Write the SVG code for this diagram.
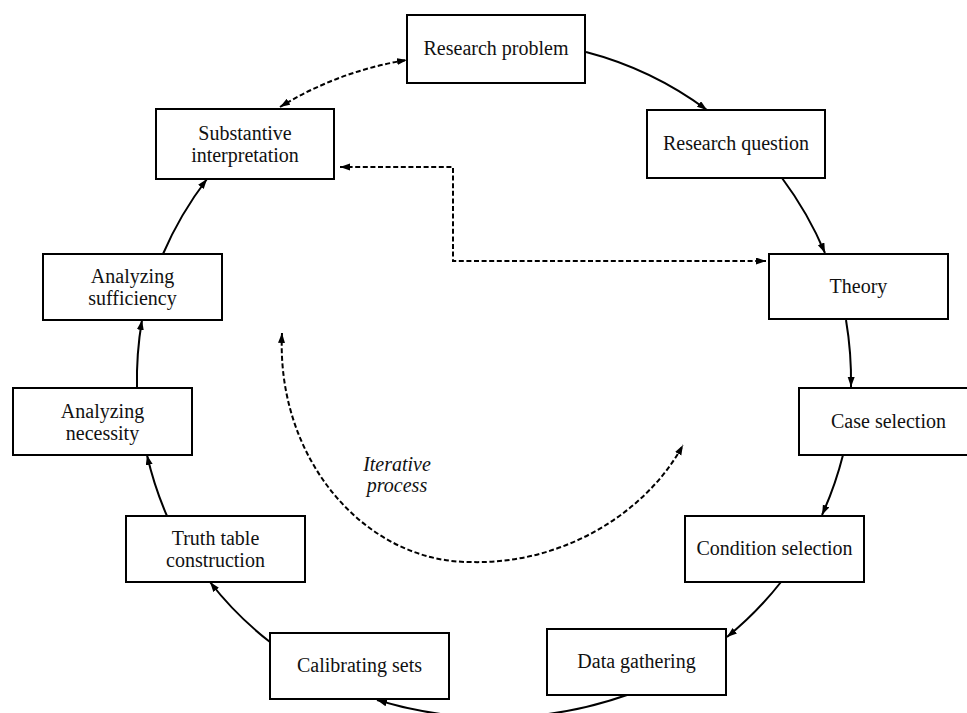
<svg xmlns="http://www.w3.org/2000/svg" width="967" height="713" viewBox="0 0 967 713">
<style>
  .box rect { fill: #fff; stroke: #000; stroke-width: 2; }
  .box text, .lbl { font-family: "Liberation Serif", "Times New Roman", serif; font-size: 20px; fill: #111; text-anchor: middle; }
  .lbl { font-style: italic; }
  .solid { fill: none; stroke: #000; stroke-width: 2; marker-end: url(#ah); }
  .dash { fill: none; stroke: #000; stroke-width: 2; stroke-dasharray: 5 2.6; marker-start: url(#ah2); marker-end: url(#ah2); }
</style>
<defs>
  <marker id="ah" markerUnits="userSpaceOnUse" markerWidth="11" markerHeight="8" refX="10" refY="3.5" orient="auto">
    <path d="M0,0 L10,3.5 L0,7 z" fill="#000"/>
  </marker>
  <marker id="ah2" markerUnits="userSpaceOnUse" markerWidth="11" markerHeight="8" refX="10" refY="3.5" orient="auto-start-reverse">
    <path d="M0,0 L10,3.5 L0,7 z" fill="#000"/>
  </marker>
</defs>
<g id="connectors">
  <path class="solid" d="M586,52 A352,352 0 0 1 707,110"/>
  <path class="solid" d="M782,178 A360,360 0 0 1 825,253"/>
  <path class="solid" d="M846,320 A362,362 0 0 1 851,387"/>
  <path class="solid" d="M843,455 A357,357 0 0 1 822,515"/>
  <path class="solid" d="M781,582 A346,346 0 0 1 727,637"/>
  <path class="solid" d="M627,695 A400,400 0 0 1 377,700"/>
  <path class="solid" d="M270,642 A338,338 0 0 1 210,582"/>
  <path class="solid" d="M167,516 A348,348 0 0 1 147,455"/>
  <path class="solid" d="M137,388 A354,354 0 0 1 142,320"/>
  <path class="solid" d="M163,254 A354,354 0 0 1 207,179"/>
  <path class="dash" d="M280,107 A345,345 0 0 1 407,60"/>
  <path class="dash" d="M340,167 H453 V261 H766"/>
  <path class="dash" d="M282,333 C276,459 365,562 470,562 C560,565 645,515 683,445"/>
</g>
<g id="n1" class="box"><rect x="407" y="15" width="178" height="68"/><text x="496" y="55">Research problem</text></g>
<g id="n2" class="box"><rect x="647" y="110" width="178" height="68"/><text x="736" y="150">Research question</text></g>
<g id="n3" class="box"><rect x="769" y="254" width="179" height="65"/><text x="858.5" y="293">Theory</text></g>
<g id="n4" class="box"><rect x="799" y="388" width="179" height="67"/><text x="888.5" y="428">Case selection</text></g>
<g id="n5" class="box"><rect x="685" y="516" width="179" height="66"/><text x="774.5" y="555">Condition selection</text></g>
<g id="n6" class="box"><rect x="547" y="629" width="179" height="66"/><text x="636.5" y="668">Data gathering</text></g>
<g id="n7" class="box"><rect x="270" y="633" width="179" height="66"/><text x="359.5" y="672">Calibrating sets</text></g>
<g id="n8" class="box"><rect x="126" y="516" width="179" height="66"/><text x="215.5" y="545">Truth table</text><text x="215.5" y="567">construction</text></g>
<g id="n9" class="box"><rect x="13" y="388" width="179" height="67"/><text x="102.5" y="417.5">Analyzing</text><text x="102.5" y="439.5">necessity</text></g>
<g id="n10" class="box"><rect x="43" y="254" width="179" height="66"/><text x="132.5" y="283">Analyzing</text><text x="132.5" y="305">sufficiency</text></g>
<g id="n11" class="box"><rect x="156" y="109" width="178" height="70"/><text x="245" y="140">Substantive</text><text x="245" y="162">interpretation</text></g>
<g id="iter"><text class="lbl" x="397" y="471">Iterative</text><text class="lbl" x="397" y="492">process</text></g>
</svg>
